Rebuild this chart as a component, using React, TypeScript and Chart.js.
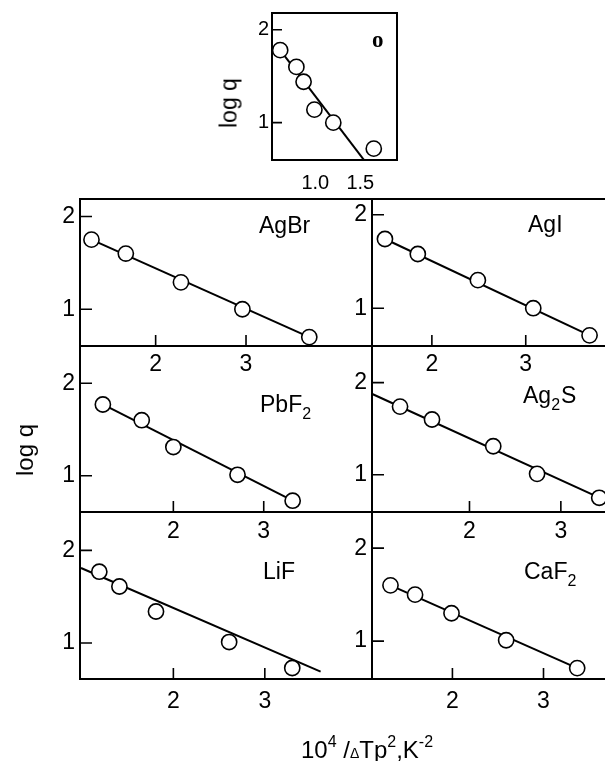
import React, { useEffect, useRef } from "react";
import { Chart, registerables } from "chart.js";
Chart.register(...registerables);

// ---------- data ----------
const O_X = [0.61, 0.79, 0.87, 0.99, 1.2, 1.65];
const O_Y = [1.78, 1.6, 1.44, 1.14, 1.0, 0.72];
const O_FIT_X = [0.61, 1.54];
const O_FIT_Y = [1.78, 0.6];

const AGBR_X = [1.29, 1.67, 2.28, 2.96, 3.7];
const AGBR_Y = [1.75, 1.6, 1.29, 1.0, 0.7];
const AGBR_FIT_X = [1.29, 3.7];
const AGBR_FIT_Y = [1.75, 0.7];

const AGI_X = [1.5, 1.85, 2.49, 3.08, 3.68];
const AGI_Y = [1.74, 1.58, 1.3, 1.0, 0.71];
const AGI_FIT_X = [1.5, 3.68];
const AGI_FIT_Y = [1.74, 0.71];

const PBF2_X = [1.22, 1.65, 2.0, 2.71, 3.32];
const PBF2_Y = [1.77, 1.6, 1.31, 1.01, 0.73];
const PBF2_FIT_X = [1.22, 3.32];
const PBF2_FIT_Y = [1.77, 0.73];

const AG2S_X = [1.24, 1.59, 2.26, 2.74, 3.42];
const AG2S_Y = [1.74, 1.6, 1.31, 1.01, 0.75];
const AG2S_FIT_X = [0.93, 3.6];
const AG2S_FIT_Y = [1.88, 0.67];

const LIF_X = [1.19, 1.41, 1.81, 2.61, 3.3];
const LIF_Y = [1.77, 1.61, 1.34, 1.01, 0.73];
const LIF_FIT_X = [0.99, 3.61];
const LIF_FIT_Y = [1.81, 0.69];

const CAF2_X = [1.32, 1.59, 1.99, 2.59, 3.37];
const CAF2_Y = [1.6, 1.5, 1.3, 1.01, 0.71];
const CAF2_FIT_X = [1.32, 3.37];
const CAF2_FIT_Y = [1.6, 0.71];

// tick labels
const MAIN_X_TICKS = [2, 3];
const MAIN_Y_TICKS = [1, 2];
const O_X_TICKS = [1.0, 1.5];
const O_Y_TICKS = [1, 2];

// axis ranges [min, max]
const O_XR = [0.519, 1.908];
const O_YR = [0.598, 2.18];
const AGBR_XR = [1.163, 4.394];
const AGBR_YR = [0.604, 2.188];
const AGI_XR = [1.362, 4.473];
const AGI_YR = [0.596, 2.168];
const PBF2_XR = [0.967, 4.198];
const PBF2_YR = [0.608, 2.402];
const AG2S_XR = [0.933, 4.129];
const AG2S_YR = [0.596, 2.398];
const LIF_XR = [0.979, 4.172];
const LIF_YR = [0.611, 2.415];
const CAF2_XR = [1.117, 4.323];
const CAF2_YR = [0.593, 2.389];

// panel names (parts: [text, isSubscript])
const NAME_O = [["o", false]];
const NAME_AGBR = [["AgBr", false]];
const NAME_AGI = [["AgI", false]];
const NAME_PBF2 = [["PbF", false], ["2", true]];
const NAME_AG2S = [["Ag", false], ["2", true], ["S", false]];
const NAME_LIF = [["LiF", false]];
const NAME_CAF2 = [["CaF", false], ["2", true]];

// ---------- layout ----------
const CW = 680;
const CH = 761;
const COLS = [80, 372, 664];
const ROWS = [199, 346, 512, 679];
const AXW = 40; // reserved width of y axis box
const AXH = 40; // reserved height of x axis box
const SANS = '"Liberation Sans", Arial, sans-serif';

type Panel = {
  xs: number[]; ys: number[]; fx: number[]; fy: number[];
  xr: number[]; yr: number[]; xt: number[]; yt: number[];
  area: number[]; name: any[]; namePos: number[]; nameFont: string; subFont: string;
  tickFont: number; xPad: number; yPad: number; xTickLen: number; yTickLen: number;
  fmt: (v: number) => string;
};

const mainFmt = (v: number) => String(v);

const mk = (xs, ys, fx, fy, xr, yr, area, name, namePos, xPad): Panel => ({
  xs, ys, fx, fy, xr, yr, xt: MAIN_X_TICKS, yt: MAIN_Y_TICKS, area, name, namePos,
  nameFont: `23px ${SANS}`, subFont: `16px ${SANS}`, tickFont: 23, xPad, yPad: 5,
  xTickLen: 11, yTickLen: 12, fmt: mainFmt,
});

const PANELS: Panel[] = [
  {
    xs: O_X, ys: O_Y, fx: O_FIT_X, fy: O_FIT_Y, xr: O_XR, yr: O_YR,
    xt: O_X_TICKS, yt: O_Y_TICKS, area: [272, 13, 397, 160], name: NAME_O,
    namePos: [100, 34], nameFont: `bold 23px "Liberation Serif", serif`, subFont: `14px ${SANS}`,
    tickFont: 20, xPad: 11, yPad: 3, xTickLen: 0, yTickLen: 10,
    fmt: (v: number) => v.toFixed(1),
  },
  mk(AGBR_X, AGBR_Y, AGBR_FIT_X, AGBR_FIT_Y, AGBR_XR, AGBR_YR, [COLS[0], ROWS[0], COLS[1], ROWS[1]], NAME_AGBR, [179, 34], 5),
  mk(AGI_X, AGI_Y, AGI_FIT_X, AGI_FIT_Y, AGI_XR, AGI_YR, [COLS[1], ROWS[0], COLS[2], ROWS[1]], NAME_AGI, [156, 33], 5),
  mk(PBF2_X, PBF2_Y, PBF2_FIT_X, PBF2_FIT_Y, PBF2_XR, PBF2_YR, [COLS[0], ROWS[1], COLS[1], ROWS[2]], NAME_PBF2, [180, 66], 5.5),
  mk(AG2S_X, AG2S_Y, AG2S_FIT_X, AG2S_FIT_Y, AG2S_XR, AG2S_YR, [COLS[1], ROWS[1], COLS[2], ROWS[2]], NAME_AG2S, [151, 57], 5.5),
  mk(LIF_X, LIF_Y, LIF_FIT_X, LIF_FIT_Y, LIF_XR, LIF_YR, [COLS[0], ROWS[2], COLS[1], ROWS[3]], NAME_LIF, [183, 67], 8.5),
  mk(CAF2_X, CAF2_Y, CAF2_FIT_X, CAF2_FIT_Y, CAF2_XR, CAF2_YR, [COLS[1], ROWS[2], COLS[2], ROWS[3]], NAME_CAF2, [152, 67], 8.5),
];

const decoPlugin = {
  id: "panelDeco",
  beforeDatasetsDraw(chart: any, _a: any, opts: any) {
    const p: Panel = opts.panel;
    const { ctx, chartArea: a } = chart;
    const xs = chart.scales.x;
    const ys = chart.scales.y;
    ctx.save();
    ctx.strokeStyle = "#000";
    ctx.lineWidth = 1.6;
    ctx.beginPath();
    if (p.xTickLen > 0) {
      for (const t of xs.ticks) {
        const px = xs.getPixelForValue(t.value);
        ctx.moveTo(px, a.bottom);
        ctx.lineTo(px, a.bottom - p.xTickLen);
      }
    }
    for (const t of ys.ticks) {
      const py = ys.getPixelForValue(t.value);
      ctx.moveTo(a.left, py);
      ctx.lineTo(a.left + p.yTickLen, py);
    }
    ctx.stroke();
    ctx.lineWidth = 2;
    ctx.strokeRect(a.left, a.top, a.right - a.left, a.bottom - a.top);
    ctx.restore();
  },
  afterDraw(chart: any, _a: any, opts: any) {
    const p: Panel = opts.panel;
    const { ctx, chartArea: a } = chart;
    ctx.save();
    ctx.fillStyle = "#000";
    ctx.textBaseline = "alphabetic";
    ctx.textAlign = "left";
    let x = a.left + p.namePos[0];
    const y = a.top + p.namePos[1];
    for (const [t, sub] of p.name) {
      ctx.font = sub ? p.subFont : p.nameFont;
      ctx.fillText(t, x, sub ? y + 7 : y);
      x += ctx.measureText(t).width + (sub ? 1 : 0);
    }
    ctx.restore();
  },
};

function makeChart(canvas: HTMLCanvasElement, p: Panel) {
  const fixFit = (s: any, horiz: boolean) => {
    if (horiz) s.height = AXH; else s.width = AXW;
    s.paddingLeft = 0; s.paddingRight = 0; s.paddingTop = 0; s.paddingBottom = 0;
  };
  return new Chart(canvas, {
    type: "scatter",
    data: {
      datasets: [
        {
          data: p.xs.map((x, i) => ({ x, y: p.ys[i] })),
          showLine: false,
          pointRadius: 7.6,
          pointBorderWidth: 1.6,
          pointBackgroundColor: "#ffffff",
          pointBorderColor: "#000000",
          clip: false,
        },
        {
          data: p.fx.map((x, i) => ({ x, y: p.fy[i] })),
          showLine: true,
          pointRadius: 0,
          borderColor: "#000000",
          borderWidth: 2,
          clip: false,
        },
      ],
    } as any,
    options: {
      responsive: false,
      animation: false,
      events: [],
      layout: {
        padding: {
          left: p.area[0] - AXW,
          top: p.area[1],
          right: CW - p.area[2],
          bottom: CH - p.area[3] - AXH,
        },
      },
      plugins: {
        legend: { display: false },
        tooltip: { enabled: false },
        panelDeco: { panel: p },
      } as any,
      scales: {
        x: {
          type: "linear",
          min: p.xr[0],
          max: p.xr[1],
          grid: { display: false, drawTicks: false },
          border: { display: false },
          ticks: {
            color: "#000",
            font: { family: SANS, size: p.tickFont },
            padding: p.xPad,
            maxRotation: 0,
            autoSkip: false,
            callback: (v: any) => p.fmt(Number(v)),
          },
          afterBuildTicks: (s: any) => { s.ticks = p.xt.map((v) => ({ value: v })); },
          afterFit: (s: any) => fixFit(s, true),
        },
        y: {
          type: "linear",
          min: p.yr[0],
          max: p.yr[1],
          grid: { display: false, drawTicks: false },
          border: { display: false },
          ticks: {
            color: "#000",
            font: { family: SANS, size: p.tickFont },
            padding: p.yPad,
            autoSkip: false,
            callback: (v: any) => String(Math.round(Number(v))),
          },
          afterBuildTicks: (s: any) => { s.ticks = p.yt.map((v) => ({ value: v })); },
          afterFit: (s: any) => fixFit(s, false),
        },
      },
    } as any,
    plugins: [decoPlugin as any],
  });
}

function PanelCanvas({ p }: { p: Panel }) {
  const ref = useRef<HTMLCanvasElement | null>(null);
  useEffect(() => {
    if (!ref.current) return;
    const c = makeChart(ref.current, p);
    return () => c.destroy();
  }, [p]);
  return (
    <canvas
      ref={ref}
      width={CW}
      height={CH}
      style={{ position: "absolute", left: 0, top: 0, width: CW, height: CH }}
    />
  );
}

const supStyle: React.CSSProperties = { position: "relative", top: -11, fontSize: 16 };

export default function App() {
  return (
    <div
      style={{
        position: "fixed", left: 0, top: 0, width: 605, height: 761,
        overflow: "hidden", background: "#fff", color: "#000", fontFamily: SANS,
      }}
    >
      {PANELS.map((p, i) => (
        <PanelCanvas key={i} p={p} />
      ))}
      <div
        style={{
          position: "absolute", left: 229, top: 103, transform: "translate(-50%, -50%) rotate(-90deg)",
          fontSize: 23, lineHeight: 1, whiteSpace: "nowrap",
        }}
      >
        log q
      </div>
      <div
        style={{
          position: "absolute", left: 25, top: 450, transform: "translate(-50%, -50%) rotate(-90deg)",
          fontSize: 24, lineHeight: 1, whiteSpace: "nowrap",
        }}
      >
        log q
      </div>
      <div
        style={{
          position: "absolute", left: 367, top: 738, transform: "translateX(-50%)",
          fontSize: 24, lineHeight: 1, whiteSpace: "nowrap",
        }}
      >
        10<span style={supStyle}>4</span> /<span style={{ fontSize: 14 }}>Δ</span>Tp
        <span style={supStyle}>2</span>,K<span style={supStyle}>-2</span>
      </div>
    </div>
  );
}
